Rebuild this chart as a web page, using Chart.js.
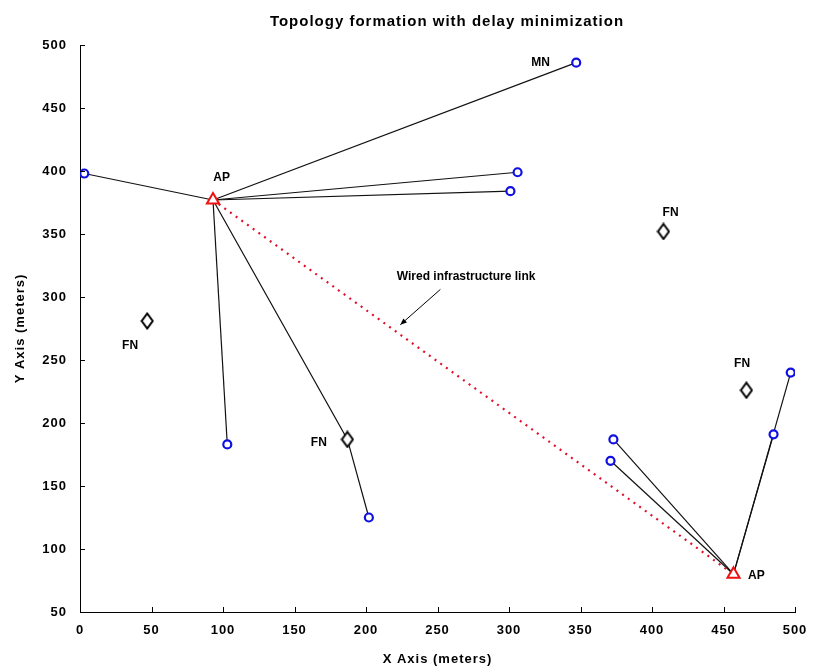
<!DOCTYPE html>
<html>
<head>
<meta charset="utf-8">
<script src="https://cdn.jsdelivr.net/npm/chart.js@4"></script>
<style>
html, body { margin: 0; padding: 0; background: #fff; }
</style>
</head>
<body>
<canvas id="topo" width="825" height="672"></canvas>
<script>
// access points, mobile nodes, fixed nodes (meters)
const apX = [93, 457];
const apY = [377, 80];
const mnX = [347, 3, 306, 301, 103, 202, 373, 371, 497, 485];
const mnY = [486, 398, 399, 384, 183, 125, 187, 170, 240, 191];
const fnX = [47, 187, 408, 466];
const fnY = [281, 187, 352, 226];

// links: each MN hangs on an AP, possibly through a FN relay (-1 = direct)
const linkAp = [0, 0, 0, 0, 0, 0, 1, 1, 1, 1];
const linkFn = [-1, -1, -1, -1, -1, 1, -1, -1, -1, -1];

// text labels
const noteText = ['AP', 'AP', 'MN', 'FN', 'FN', 'FN', 'FN', 'Wired infrastructure link'];
const noteX = [99, 473, 322, 35, 167, 413, 463, 270];
const noteY = [395, 79, 486, 261, 184, 367, 247, 316];
const arrowFrom = [252, 306];
const arrowTo = [224, 278];

const titleText = 'Topology formation with delay minimization';
const fontFam = '"Liberation Sans", Arial, sans-serif';

const pts = (xs, ys) => xs.map((x, i) => ({ x: x, y: ys[i] }));

// tall diamond marker for FN
const diamond = document.createElement('canvas');
diamond.width = 14;
diamond.height = 18;
(function () {
    const c = diamond.getContext('2d');
    c.strokeStyle = '#000';
    c.fillStyle = '#fff';
    c.lineWidth = 2;
    c.beginPath();
    c.moveTo(7, 1.5);
    c.lineTo(12.5, 9);
    c.lineTo(7, 16.5);
    c.lineTo(1.5, 9);
    c.closePath();
    c.fill();
    c.stroke();
})();

// build link datasets
const linkSets = mnX.map((x, i) => {
    const a = linkAp[i];
    const path = [{ x: apX[a], y: apY[a] }];
    if (linkFn[i] >= 0) path.push({ x: fnX[linkFn[i]], y: fnY[linkFn[i]] });
    path.push({ x: x, y: mnY[i] });
    return {
        data: path,
        showLine: true,
        borderColor: '#111',
        borderWidth: 1.2,
        pointRadius: 0,
        order: 5
    };
});

const wiredSet = {
    data: pts(apX, apY),
    showLine: true,
    borderColor: '#e0102a',
    borderWidth: 2.2,
    borderDash: [2, 5],
    pointRadius: 0,
    order: 4
};

// wider letter spacing, closer to the blocky original font
const spacing = {
    id: 'spacing',
    beforeUpdate(chart) { chart.ctx.letterSpacing = '1px'; },
    beforeDraw(chart) { chart.ctx.letterSpacing = '1px'; }
};

// inward tick marks (matlab style)
const inwardTicks = {
    id: 'inwardTicks',
    afterDraw(chart) {
        const { ctx, chartArea: a, scales: { x, y } } = chart;
        ctx.save();
        ctx.strokeStyle = '#000';
        ctx.lineWidth = 1;
        ctx.beginPath();
        x.ticks.forEach(t => {
            const px = Math.round(x.getPixelForValue(t.value)) + 0.5;
            ctx.moveTo(px, a.bottom);
            ctx.lineTo(px, a.bottom - 5);
        });
        y.ticks.forEach(t => {
            const py = Math.round(y.getPixelForValue(t.value)) + 0.5;
            ctx.moveTo(a.left, py);
            ctx.lineTo(a.left + 5, py);
        });
        ctx.stroke();
        ctx.restore();
    }
};

// title, labels and arrow
const notes = {
    id: 'notes',
    afterDraw(chart) {
        const { ctx, scales: { x, y } } = chart;
        ctx.save();
        ctx.fillStyle = '#000';
        ctx.textAlign = 'center';
        ctx.textBaseline = 'middle';
        ctx.font = 'bold 15px ' + fontFam;
        ctx.fillText(titleText, 447, 22);
        ctx.font = 'bold 12px ' + fontFam;
        ctx.letterSpacing = '0px';
        noteText.forEach((t, i) => {
            ctx.fillText(t, x.getPixelForValue(noteX[i]), y.getPixelForValue(noteY[i]));
        });
        const x0 = x.getPixelForValue(arrowFrom[0]), y0 = y.getPixelForValue(arrowFrom[1]);
        const x1 = x.getPixelForValue(arrowTo[0]), y1 = y.getPixelForValue(arrowTo[1]);
        ctx.strokeStyle = '#000';
        ctx.lineWidth = 1;
        ctx.beginPath();
        ctx.moveTo(x0, y0);
        ctx.lineTo(x1, y1);
        ctx.stroke();
        const ang = Math.atan2(y1 - y0, x1 - x0);
        ctx.beginPath();
        ctx.moveTo(x1, y1);
        ctx.lineTo(x1 - 7 * Math.cos(ang - 0.4), y1 - 7 * Math.sin(ang - 0.4));
        ctx.lineTo(x1 - 7 * Math.cos(ang + 0.4), y1 - 7 * Math.sin(ang + 0.4));
        ctx.closePath();
        ctx.fill();
        ctx.restore();
    }
};

new Chart(document.getElementById('topo').getContext('2d'), {
    type: 'scatter',
    data: {
        datasets: [
            {
                data: pts(mnX, mnY),
                pointStyle: 'circle',
                pointRadius: 4,
                borderColor: '#1010e0',
                backgroundColor: '#fff',
                borderWidth: 2.2,
                order: 1
            },
            {
                data: pts(fnX, fnY),
                pointStyle: diamond,
                order: 1
            },
            {
                data: pts(apX, apY),
                pointStyle: 'triangle',
                pointRadius: 7,
                borderColor: '#ee1111',
                backgroundColor: '#fff',
                borderWidth: 2,
                order: 1
            },
            wiredSet
        ].concat(linkSets)
    },
    options: {
        responsive: false,
        animation: false,
        layout: { padding: { left: 0, right: 30, top: 45, bottom: 0 } },
        plugins: {
            legend: { display: false },
            tooltip: { enabled: false }
        },
        scales: {
            x: {
                type: 'linear',
                min: 0,
                max: 500,
                afterFit(scale) { scale.height = 60; },
                grid: { display: false },
                border: { display: true, color: '#000', width: 1 },
                ticks: {
                    stepSize: 50,
                    padding: 3,
                    maxRotation: 0,
                    color: '#000',
                    font: { family: fontFam, size: 13, weight: 'bold' }
                },
                title: {
                    display: true,
                    text: 'X Axis (meters)',
                    color: '#000',
                    padding: { top: 0, bottom: 5 },
                    font: { family: fontFam, size: 13, weight: 'bold' }
                }
            },
            y: {
                type: 'linear',
                min: 50,
                max: 500,
                afterFit(scale) { scale.width = 80; },
                grid: { display: false },
                border: { display: true, color: '#000', width: 1 },
                ticks: {
                    stepSize: 50,
                    padding: 5,
                    color: '#000',
                    font: { family: fontFam, size: 13, weight: 'bold' }
                },
                title: {
                    display: true,
                    text: 'Y Axis (meters)',
                    color: '#000',
                    padding: { top: 13, bottom: 0 },
                    font: { family: fontFam, size: 13, weight: 'bold' }
                }
            }
        }
    },
    plugins: [spacing, inwardTicks, notes]
});
</script>
</body>
</html>
